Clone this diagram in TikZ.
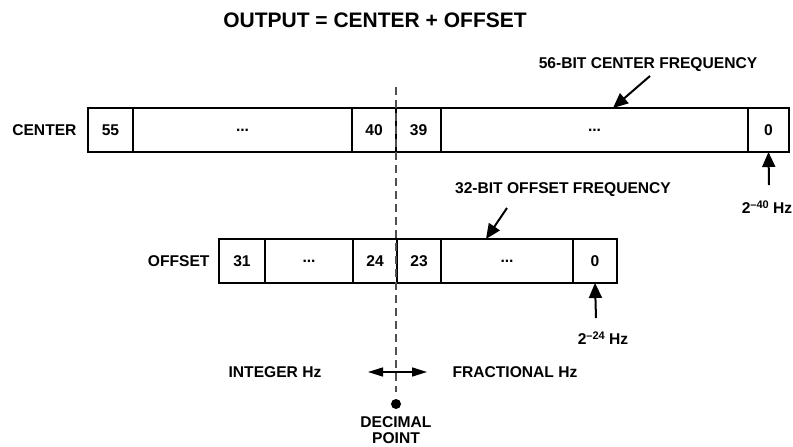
\documentclass[tikz,border=0pt]{standalone}
\usepackage{fontspec}
\setmainfont{Liberation Sans}
\usepackage{tikz}
\usetikzlibrary{arrows.meta,positioning,calc}
\definecolor{DashGray}{RGB}{80,80,80}
\newcommand{\supnum}[1]{\raisebox{5.5pt}{\fontsize{11}{11}\selectfont #1}}

\begin{document}
\begin{tikzpicture}[
    x=1pt, y=-1pt,
    every node/.style={font=\fontsize{15.6}{18}\selectfont\bfseries},
    cell/.style={rectangle, draw, line width=2pt, minimum height=44pt, minimum width=#1, inner sep=0pt, outer sep=0pt},
    cell/.default=45pt,
    ptr/.style={-{Triangle[length=15pt,width=13pt]}, line width=2pt},
    both/.style={{Triangle[length=15pt,width=9pt]}-{Triangle[length=15pt,width=9pt]}, line width=1.6pt},
    decline/.style={draw=DashGray, line width=2.4pt, dash pattern=on 8pt off 5pt}
]
    \useasboundingbox (0,0) rectangle (793,447);

    \node[font=\fontsize{21}{24}\selectfont\bfseries] (title) at (375,20) {OUTPUT = CENTER + OFFSET};

    % center register
    \node[cell=45pt] (c55) at (110.5,130) {55};
    \node[cell=219pt, right=0pt of c55] (cdotsa) {...};
    \node[cell=44pt, right=0pt of cdotsa] (c40) {40};
    \node[cell=45pt, right=0pt of c40] (c39) {39};
    \node[cell=307pt, right=0pt of c39] (cdotsb) {...};
    \node[cell=41pt, right=0pt of cdotsb] (c0) {0};
    \node[anchor=east] (center) at (80,130) {CENTER};

    % offset register
    \node[cell=46pt] (o31) at (242,261) {31};
    \node[cell=88pt, right=0pt of o31] (odotsa) {...};
    \node[cell=44pt, right=0pt of odotsa] (o24) {24};
    \node[cell=44pt, right=0pt of o24] (o23) {23};
    \node[cell=132pt, right=0pt of o23] (odotsb) {...};
    \node[cell=44pt, right=0pt of odotsb] (o0) {0};
    \node[anchor=east] (offset) at (213,261) {OFFSET};

    \node (cfreq) at (648,65) {56-BIT CENTER FREQUENCY};
    \node (ofreq) at (563,190) {32-BIT OFFSET FREQUENCY};
    \node (lsb40) at (767,207) {2\supnum{–40} Hz};
    \node (lsb24) at (603,338) {2\supnum{–24} Hz};

    \coordinate (tcf) at (650,76);
    \coordinate (tof) at (507,208);
    \coordinate (t40) at (769,185);
    \coordinate (t24) at (596,318);
    \draw[ptr] (tcf) -- ([xshift=18.5pt]cdotsb.north);
    \draw[ptr] (tof) -- ([xshift=-21pt]odotsb.north);
    \draw[ptr] (t40) -- (c0.south);
    \draw[ptr] (t24) -- (o0.south);

    % decimal point
    \node[circle, fill, minimum size=10pt, inner sep=0pt] (dot) at (396,404) {};
    \coordinate (dtop) at (396,87);
    \draw[decline, shorten >=7pt] (dtop) -- (dot.north);
    \node[align=center, below=4pt of dot, font=\fontsize{15.6}{15.5}\selectfont\bfseries] (dpoint) {DECIMAL\\POINT};

    \node (integer) at (275,372) {INTEGER Hz};
    \node (fraction) at (515,372) {FRACTIONAL Hz};
    \coordinate (la) at (368,372);
    \coordinate (ra) at (427,372);
    \draw[both] (la) -- (ra);
\end{tikzpicture}
\end{document}
